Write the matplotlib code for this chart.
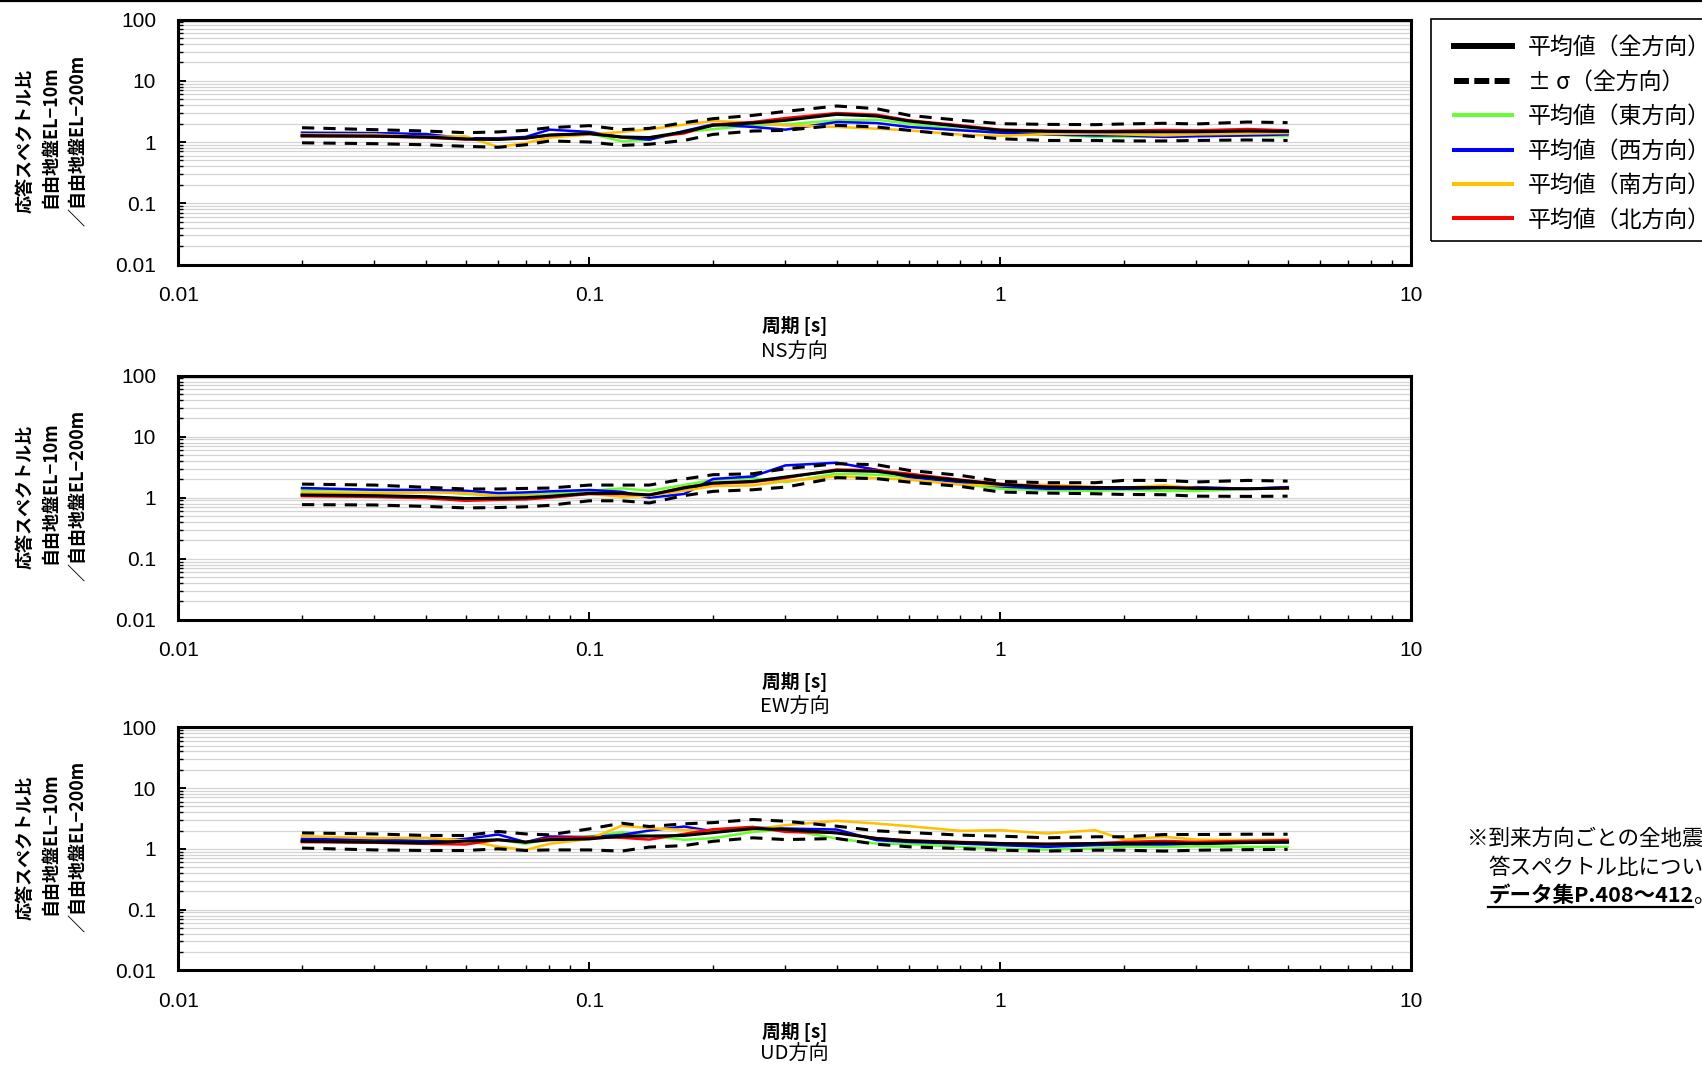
import numpy as np
import matplotlib
matplotlib.use('Agg')
import matplotlib.pyplot as plt
from matplotlib.lines import Line2D
from matplotlib.patches import Rectangle
from matplotlib.ticker import LogLocator, FixedLocator, FixedFormatter, NullFormatter

plt.rcParams['font.family'] = ['Noto Sans CJK JP', 'DejaVu Sans']

# 周期 [s]
period = [0.02, 0.03, 0.04, 0.05, 0.06, 0.07, 0.08, 0.10, 0.12, 0.14, 0.17, 0.20, 0.25,
          0.30, 0.40, 0.50, 0.60, 0.80, 1.0, 1.3, 1.7, 2.0, 2.5, 3.0, 4.0, 5.0]

# NS方向
ns_mean = [1.27, 1.25, 1.21, 1.12, 1.10, 1.16, 1.30, 1.37, 1.21, 1.18, 1.46, 1.87, 2.04,
           2.26, 2.83, 2.65, 2.20, 1.80, 1.55, 1.49, 1.47, 1.47, 1.46, 1.47, 1.51, 1.49]
ns_upper = [1.71, 1.59, 1.51, 1.42, 1.46, 1.55, 1.71, 1.85, 1.59, 1.67, 2.07, 2.40, 2.72,
            3.16, 3.87, 3.50, 2.72, 2.26, 1.99, 1.94, 1.92, 1.97, 2.02, 1.97, 2.12, 2.07]
ns_lower = [0.97, 0.94, 0.90, 0.85, 0.82, 0.90, 1.04, 1.00, 0.88, 0.92, 1.06, 1.33, 1.51,
            1.55, 1.87, 1.76, 1.55, 1.28, 1.13, 1.06, 1.06, 1.04, 1.04, 1.06, 1.08, 1.06]
ns_east = [1.25, 1.24, 1.20, 1.13, 1.11, 1.18, 1.30, 1.38, 1.03, 1.09, 1.46, 1.62, 1.87,
           1.94, 2.26, 2.31, 1.99, 1.59, 1.40, 1.33, 1.21, 1.21, 1.24, 1.27, 1.28, 1.25]
ns_west = [1.42, 1.40, 1.35, 1.15, 1.15, 1.21, 1.59, 1.46, 1.19, 1.09, 1.51, 1.94, 1.76,
           1.59, 2.12, 2.04, 1.76, 1.55, 1.42, 1.33, 1.28, 1.28, 1.21, 1.24, 1.28, 1.33]
ns_south = [1.33, 1.33, 1.21, 1.24, 0.83, 0.96, 1.18, 1.32, 1.46, 1.61, 1.92, 2.20, 2.07,
            1.87, 1.76, 1.65, 1.55, 1.32, 1.26, 1.35, 1.37, 1.33, 1.28, 1.33, 1.37, 1.40]
ns_north = [1.24, 1.23, 1.18, 1.10, 1.12, 1.14, 1.29, 1.37, 1.19, 1.19, 1.38, 1.92, 2.12,
            2.46, 2.97, 2.79, 2.26, 1.87, 1.59, 1.53, 1.51, 1.53, 1.57, 1.55, 1.63, 1.55]

# EW方向
ew_mean = [1.11, 1.08, 1.04, 0.97, 0.98, 1.00, 1.05, 1.18, 1.18, 1.11, 1.44, 1.74, 1.85,
           2.18, 2.80, 2.70, 2.32, 1.92, 1.65, 1.49, 1.46, 1.46, 1.46, 1.42, 1.40, 1.44]
ew_upper = [1.67, 1.61, 1.48, 1.39, 1.39, 1.42, 1.44, 1.61, 1.61, 1.61, 2.02, 2.38, 2.47,
            2.98, 3.60, 3.47, 2.80, 2.32, 1.85, 1.76, 1.76, 1.92, 1.92, 1.81, 1.92, 1.87]
ew_lower = [0.77, 0.76, 0.72, 0.68, 0.69, 0.71, 0.75, 0.89, 0.89, 0.82, 1.08, 1.27, 1.35,
            1.49, 2.13, 2.05, 1.80, 1.53, 1.24, 1.19, 1.16, 1.13, 1.12, 1.06, 1.05, 1.06]
ew_east = [1.34, 1.32, 1.30, 1.15, 1.08, 1.10, 1.15, 1.30, 1.42, 1.30, 1.61, 1.96, 2.10,
           1.80, 2.47, 2.38, 2.18, 1.69, 1.40, 1.32, 1.29, 1.35, 1.29, 1.29, 1.40, 1.40]
ew_west = [1.44, 1.35, 1.34, 1.30, 1.19, 1.22, 1.27, 1.34, 1.25, 1.00, 1.15, 2.03, 2.23,
           3.38, 3.74, 2.87, 2.18, 1.80, 1.53, 1.40, 1.40, 1.40, 1.44, 1.49, 1.40, 1.49]
ew_south = [1.22, 1.19, 1.22, 1.19, 1.06, 1.06, 1.08, 1.15, 1.04, 1.08, 1.30, 1.55, 1.59,
            1.87, 2.23, 2.10, 1.97, 1.63, 1.59, 1.63, 1.49, 1.46, 1.59, 1.44, 1.40, 1.40]
ew_north = [1.06, 1.03, 0.98, 0.89, 0.92, 0.94, 1.00, 1.15, 1.15, 1.11, 1.48, 1.70, 1.80,
            2.10, 2.90, 2.80, 2.47, 1.97, 1.69, 1.53, 1.49, 1.46, 1.49, 1.44, 1.40, 1.44]

# UD方向
ud_mean = [1.34, 1.29, 1.25, 1.34, 1.41, 1.29, 1.41, 1.46, 1.62, 1.62, 1.66, 1.85, 2.16,
           2.08, 1.83, 1.48, 1.35, 1.27, 1.22, 1.19, 1.22, 1.22, 1.25, 1.22, 1.27, 1.30]
ud_upper = [1.83, 1.76, 1.66, 1.66, 1.93, 1.76, 1.70, 2.13, 2.64, 2.33, 2.58, 2.70, 3.04,
            2.85, 2.36, 1.98, 1.86, 1.68, 1.62, 1.52, 1.58, 1.58, 1.72, 1.72, 1.74, 1.74]
ud_lower = [1.03, 0.96, 0.94, 0.94, 1.00, 0.94, 0.96, 0.96, 0.92, 1.07, 1.13, 1.33, 1.52,
            1.42, 1.48, 1.19, 1.08, 1.01, 0.95, 0.92, 0.95, 0.95, 0.92, 0.95, 0.97, 0.98]
ud_east = [1.41, 1.38, 1.34, 1.38, 1.41, 1.21, 1.46, 1.60, 1.88, 1.66, 1.41, 1.50, 1.90,
           2.08, 1.48, 1.22, 1.20, 1.08, 1.01, 0.97, 1.01, 1.08, 1.08, 1.10, 1.08, 1.08]
ud_west = [1.46, 1.42, 1.34, 1.46, 1.72, 1.29, 1.60, 1.56, 1.70, 2.00, 2.33, 1.95, 2.24,
           2.16, 2.08, 1.39, 1.30, 1.22, 1.15, 1.08, 1.15, 1.18, 1.18, 1.22, 1.27, 1.27]
ud_south = [1.62, 1.50, 1.52, 1.37, 1.09, 0.96, 1.21, 1.45, 2.40, 2.19, 2.05, 1.92, 2.08,
            2.45, 2.89, 2.61, 2.36, 1.98, 2.03, 1.79, 2.03, 1.42, 1.58, 1.42, 1.39, 1.42]
ud_north = [1.29, 1.26, 1.21, 1.18, 1.41, 1.28, 1.50, 1.56, 1.52, 1.42, 1.76, 2.10, 2.30,
            1.90, 1.83, 1.50, 1.38, 1.30, 1.24, 1.21, 1.24, 1.30, 1.35, 1.30, 1.35, 1.39]

x_ticks = [0.01, 0.1, 1, 10]
x_ticklabels = ['0.01', '0.1', '1', '10']
y_ticks = [0.01, 0.1, 1, 10, 100]
y_ticklabels = ['0.01', '0.1', '1', '10', '100']

legend_labels = ['平均値（全方向）', '± σ（全方向）', '平均値（東方向）',
                 '平均値（西方向）', '平均値（南方向）', '平均値（北方向）']
ylabel_lines = ['応答スペクトル比', '自由地盤EL−10m', '／自由地盤EL−200m']

C_EAST = '#66ff33'
C_WEST = '#0000ff'
C_SOUTH = '#ffc000'
C_NORTH = '#ff0000'

W, H = 1702, 1067
fig = plt.figure(figsize=(W / 100, H / 100), dpi=100)

AX_L, AX_R = 178.3, 1411.3
# (上端, 下端, タイトル位置, タイトル, データ...)  単位: px
panels = [
    (19.5, 264.5, 88, 'NS方向', ns_mean, ns_upper, ns_lower, ns_east, ns_west, ns_south, ns_north),
    (375.6, 619.8, 88, 'EW方向', ew_mean, ew_upper, ew_lower, ew_east, ew_west, ew_south, ew_north),
    (727.3, 970.4, 84, 'UD方向', ud_mean, ud_upper, ud_lower, ud_east, ud_west, ud_south, ud_north),
]

tick_family = ['Liberation Sans', 'DejaVu Sans']

for top, bot, t_off, title, mean, upper, lower, east, west, south, north in panels:
    ax = fig.add_axes([AX_L / W, 1 - bot / H, (AX_R - AX_L) / W, (bot - top) / H])
    ax.set_xscale('log')
    ax.set_yscale('log')
    ax.set_xlim(0.01, 10)
    ax.set_ylim(0.01, 100)

    # 方向別の平均値
    ax.plot(period, east, color=C_EAST, lw=1.8, zorder=3)
    ax.plot(period, west, color=C_WEST, lw=1.8, zorder=3)
    ax.plot(period, south, color=C_SOUTH, lw=1.8, zorder=3)
    ax.plot(period, north, color=C_NORTH, lw=1.8, zorder=3)
    # 全方向 ±σ と平均値
    ax.plot(period, upper, color='black', lw=2.2, dashes=(4, 3), zorder=4)
    ax.plot(period, lower, color='black', lw=2.2, dashes=(4, 3), zorder=4)
    ax.plot(period, mean, color='black', lw=2.2, zorder=5)

    ax.xaxis.set_major_locator(FixedLocator(x_ticks))
    ax.xaxis.set_major_formatter(FixedFormatter(x_ticklabels))
    ax.xaxis.set_minor_locator(LogLocator(base=10, subs=np.arange(2, 10)))
    ax.xaxis.set_minor_formatter(NullFormatter())
    ax.yaxis.set_major_locator(FixedLocator(y_ticks))
    ax.yaxis.set_major_formatter(FixedFormatter(y_ticklabels))
    ax.yaxis.set_minor_locator(LogLocator(base=10, subs=np.arange(2, 10)))
    ax.yaxis.set_minor_formatter(NullFormatter())

    ax.grid(True, which='both', axis='y', color='#d4d4d4', lw=0.9, zorder=0)
    ax.set_axisbelow(True)
    for s in ax.spines.values():
        s.set_linewidth(2.2)
    ax.tick_params(which='both', direction='in', top=False, right=False)
    ax.tick_params(which='major', length=5.5, width=1.4)
    ax.tick_params(which='minor', length=3.5, width=1.0)
    ax.tick_params(axis='y', which='major', pad=16)
    ax.tick_params(axis='x', which='major', pad=15.5)
    for lab in ax.get_xticklabels() + ax.get_yticklabels():
        lab.set_fontfamily(tick_family)
        lab.set_fontsize(15)

    cx = (AX_L + AX_R) / 2 / W
    fig.text(cx, 1 - (bot + 62) / H, '周期 [s]', ha='center', va='center',
             fontsize=13.5, fontweight='bold')
    fig.text(cx, 1 - (bot + t_off) / H, title, ha='center', va='center', fontsize=14.5)

    cy = (top + bot) / 2
    for xp, dy, line in zip([25, 50, 78], [-1, -5, -2], ylabel_lines):
        fig.text(xp / W, 1 - (cy + dy) / H, line, rotation=90, ha='center', va='center',
                 fontsize=13, fontweight='bold')

# 凡例 (枠は右端で切れるので別に描く)
handles = [
    Line2D([], [], color='black', lw=4.3),
    Line2D([], [], color='black', lw=4.3, dashes=(2.5, 0.9)),
    Line2D([], [], color=C_EAST, lw=2.9),
    Line2D([], [], color=C_WEST, lw=2.9),
    Line2D([], [], color=C_SOUTH, lw=2.9),
    Line2D([], [], color=C_NORTH, lw=2.9),
]
leg = fig.legend(handles, legend_labels, loc='upper left',
                 bbox_to_anchor=(1440 / W, 1 - 22 / H), bbox_transform=fig.transFigure,
                 borderaxespad=0, fontsize=16.5, handlelength=2.5, handletextpad=0.7,
                 labelspacing=0.5, borderpad=0.62, frameon=False)
fig.add_artist(Rectangle((1430.5 / W, 1 - 240.7 / H), 300 / W, 221.7 / H,
                         transform=fig.transFigure, fill=False, ec='black', lw=1.2))

# 上端の罫線
fig.add_artist(Line2D([0, 1], [1 - 1.2 / H, 1 - 1.2 / H], transform=fig.transFigure,
                      color='black', lw=1.6))

# 注記
fig.text(1466.7 / W, 1 - 839 / H, '※到来方向ごとの全地震の応', ha='left', va='center',
         fontsize=15.5)
fig.text(1488 / W, 1 - 868 / H, '答スペクトル比については', ha='left', va='center',
         fontsize=15.5)
ref = fig.text(1488 / W, 1 - 896 / H, 'データ集P.408～412', ha='left', va='center',
               fontsize=15.5, fontweight='bold')
fig.canvas.draw()
bb = ref.get_window_extent()
fig.text(bb.x1 / W, 1 - 896 / H, '。', ha='left', va='center', fontsize=15.5)
uy = 1 - 907 / H
fig.add_artist(Line2D([bb.x0 / W, bb.x1 / W], [uy, uy], transform=fig.transFigure,
                      color='black', lw=1.6))

fig.savefig('out.png', dpi=100)
